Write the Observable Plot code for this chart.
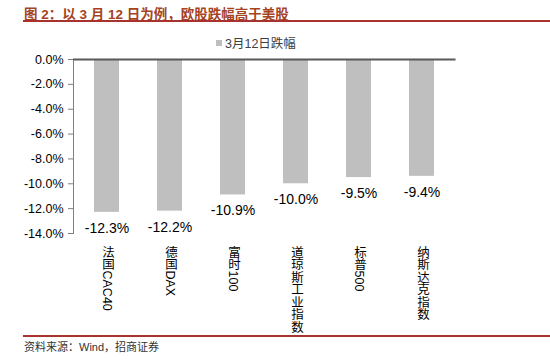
<!DOCTYPE html>
<html>
<head>
<meta charset="utf-8">
<script src="https://cdn.jsdelivr.net/npm/d3@7"></script>
<script src="https://cdn.jsdelivr.net/npm/@observablehq/plot@0.6"></script>
<style>
  html, body { margin: 0; padding: 0; background: #fff; }
  #wrap { position: relative; width: 550px; height: 361px; overflow: hidden;
    font-family: "Liberation Sans", Arial, "Noto Sans CJK SC", sans-serif; }
  #title { position: absolute; left: 24px; top: 3px; font-size: 13.5px; font-weight: bold;
    color: #a5431f; white-space: pre; font-family: "Liberation Sans", "Noto Sans CJK SC", sans-serif; }
  .redline { position: absolute; left: 23px; width: 527px; height: 2px; background: #a8322d; }
  #legend { position: absolute; left: 216px; top: 33px; font-size: 12.5px; color: #404040; display: flex; align-items: center; }
  #legend .sw { width: 6px; height: 6px; background: #bfbfbf; margin-right: 3px; }
  #chart { position: absolute; left: 0; top: 50px; }
  #footer { position: absolute; left: 24px; top: 338px; font-size: 11px; color: #333; white-space: pre;
    font-family: "Liberation Sans", "Noto Sans CJK SC", sans-serif; }
</style>
</head>
<body>
<div id="wrap">
  <div id="title">图 2：以 3 月 12 日为例，欧股跌幅高于美股</div>
  <div class="redline" style="top:20px"></div>
  <div id="legend"><div class="sw"></div><span>3月12日跌幅</span></div>
  <div id="chart"></div>
  <div class="redline" style="top:335px"></div>
  <div id="footer">资料来源：Wind，招商证券</div>
</div>
<script>
const categories = ["法国CAC40", "德国DAX", "富时100", "道琼斯工业指数", "标普500", "纳斯达克指数"];
const values = [-12.3, -12.2, -10.9, -10.0, -9.5, -9.4];
const yTicks = [-14, -12, -10, -8, -6, -4, -2, 0];
const seriesName = "3月12日跌幅";

const data = categories.map((c, i) => ({name: c, value: values[i]}));
const pct = d => (Math.abs(d) < 1e-9 ? 0 : d).toFixed(1) + "%";

const svg = Plot.plot({
  width: 550,
  height: 280,
  marginTop: 9,
  marginBottom: 97,
  marginLeft: 73,
  marginRight: 94.5,
  style: {fontFamily: "'Liberation Sans', Arial, 'Noto Sans CJK SC', sans-serif", fontSize: "12.5px", color: "#000", background: "transparent", overflow: "visible"},
  x: {domain: categories, paddingInner: 0.6, paddingOuter: 0.3, label: null},
  y: {domain: [-14, 0], label: null},
  marks: [
    Plot.barY(data, {x: "name", y: "value", fill: "#bfbfbf"}),
    Plot.frame({anchor: "left", stroke: "#808080"}),
    Plot.ruleY([0], {stroke: "#595959", strokeWidth: 2}),
    Plot.axisY({ticks: yTicks, tickFormat: pct, tickSize: 5, tickPadding: 5, label: null}),
    Plot.text(data, {x: "name", y: "value", text: d => pct(d.value), dy: 16, fontSize: 14, fill: "#000"}),
    Plot.axisX({tickSize: 0, tickPadding: 12, label: null})
  ]
});

const s = d3.select(svg);
s.selectAll('g[aria-label="y-axis tick"]').attr("stroke", "#808080");
s.selectAll('g[aria-label="y-axis tick"] path').attr("stroke", "#808080");
s.selectAll('g[aria-label="x-axis tick label"] text').each(function() {
  const t = d3.select(this);
  t.attr("y", null).attr("dy", null)
   .attr("text-anchor", "start")
   .style("writing-mode", "vertical-rl")
   .style("text-orientation", "mixed")
   .style("font-size", "12.5px");
});
document.getElementById("chart").appendChild(svg);
</script>
</body>
</html>
